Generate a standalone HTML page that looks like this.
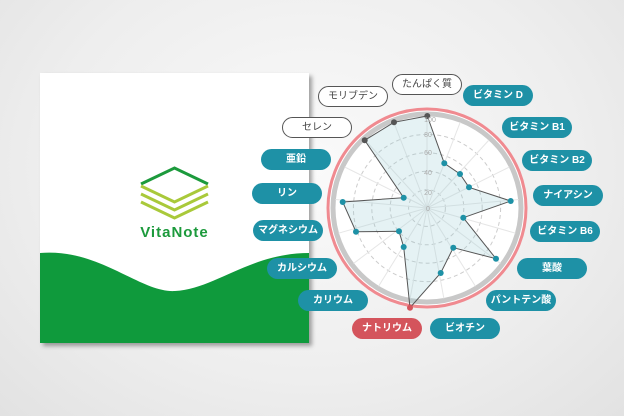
<!DOCTYPE html>
<html><head><meta charset="utf-8"><style>
body{margin:0;width:624px;height:416px;overflow:hidden;background:radial-gradient(ellipse at 50% 40%,#fafafa 0%,#eeeeee 60%,#e2e2e2 100%);font-family:"Liberation Sans","Noto Sans CJK JP",sans-serif;position:relative}
.card{position:absolute;left:40px;top:73px;width:269px;height:270px;background:#fff;box-shadow:3px 3px 4px rgba(0,0,0,.35);overflow:hidden}
.p{position:absolute;width:70px;height:21px;border-radius:11px;font-size:10px;line-height:21px;text-align:center;color:#fff;background:#1e91a6;font-weight:bold}
.w{background:#fff;color:#444;border:1px solid #555;height:19px;line-height:19px;width:68px;font-weight:normal}
.r{background:#d4545c}
</style></head><body>
<div class="card">
<svg width="269" height="270" style="position:absolute;left:0;top:0">
<path d="M0 180 C60 175 100 220 135 218 C175 216 210 180 269 180 L269 270 L0 270Z" fill="#0f9a3c"/>
<polyline points="101,111 134.5,95 168,111" fill="none" stroke="#1c9a3c" stroke-width="3"/>
<polyline points="101,113 134.5,129 168,113" fill="none" stroke="#a9c93a" stroke-width="3"/>
<polyline points="101,121 134.5,137 168,121" fill="none" stroke="#a9c93a" stroke-width="3"/>
<polyline points="101,129 134.5,145 168,129" fill="none" stroke="#a9c93a" stroke-width="3"/>
<text x="134.5" y="164" text-anchor="middle" font-family="Liberation Sans,sans-serif" font-size="15" font-weight="bold" fill="#1c9a3c" letter-spacing="1">VitaNote</text>
</svg></div>
<svg width="624" height="416" style="position:absolute;left:0;top:0">
<circle cx="427" cy="208" r="99" fill="#fff" stroke="#f08a90" stroke-width="3"/>
<circle cx="427" cy="208" r="94" fill="none" stroke="#c8c8c8" stroke-width="5"/>
<g fill="none" stroke="#ccc" stroke-dasharray="4 3">
<circle cx="427" cy="208" r="18.4"/><circle cx="427" cy="208" r="36.8"/><circle cx="427" cy="208" r="55.2"/><circle cx="427" cy="208" r="73.6"/></g>
<g stroke="#e6e6e6" id="sp"></g>
<polygon points="427.3,116 444.3,163.3 460,174 469,187.3 510.7,201 463.3,217.7 496,258.7 453.3,247.7 440.7,273 410,307.7 403.7,247 399,231.3 356,231.7 342.7,202 403.7,197.7 364.7,140.3 394,122.3" fill="rgba(150,205,210,.25)" stroke="#555" stroke-width="1"/>
<g fill="#1e91a6">
<circle cx="444.3" cy="163.3" r="3"/><circle cx="460" cy="174" r="3"/><circle cx="469" cy="187.3" r="3"/><circle cx="510.7" cy="201" r="3"/><circle cx="463.3" cy="217.7" r="3"/><circle cx="496" cy="258.7" r="3"/><circle cx="453.3" cy="247.7" r="3"/><circle cx="440.7" cy="273" r="3"/><circle cx="403.7" cy="247" r="3"/><circle cx="399" cy="231.3" r="3"/><circle cx="356" cy="231.7" r="3"/><circle cx="342.7" cy="202" r="3"/><circle cx="403.7" cy="197.7" r="3"/></g>
<g fill="#555"><circle cx="427.3" cy="116" r="3"/><circle cx="364.7" cy="140.3" r="3"/><circle cx="394" cy="122.3" r="3"/></g>
<circle cx="410" cy="307.7" r="3" fill="#d4545c"/>
<g font-size="7" fill="#aaa" text-anchor="middle" font-family="Liberation Sans,sans-serif">
<text x="428" y="211">0</text><text x="428" y="195">20</text><text x="428" y="175">40</text><text x="428" y="155">60</text><text x="428" y="137">80</text><text x="430" y="122">100</text></g>
</svg>
<script>
var g=document.getElementById('sp'),s='';for(var i=0;i<17;i++){var a=i*2*Math.PI/17;s+='<line x1="427" y1="208" x2="'+(427+92*Math.sin(a))+'" y2="'+(208-92*Math.cos(a))+'"/>';}g.innerHTML=s;
</script>
<div class="p w" style="left:392px;top:74px">たんぱく質</div>
<div class="p w" style="left:318px;top:86px">モリブデン</div>
<div class="p w" style="left:282px;top:117px">セレン</div>
<div class="p" style="left:463px;top:85px">ビタミン D</div>
<div class="p" style="left:502px;top:117px">ビタミン B1</div>
<div class="p" style="left:522px;top:150px">ビタミン B2</div>
<div class="p" style="left:533px;top:185px">ナイアシン</div>
<div class="p" style="left:530px;top:221px">ビタミン B6</div>
<div class="p" style="left:517px;top:258px">葉酸</div>
<div class="p" style="left:486px;top:290px">パントテン酸</div>
<div class="p" style="left:430px;top:318px">ビオチン</div>
<div class="p r" style="left:352px;top:318px">ナトリウム</div>
<div class="p" style="left:298px;top:290px">カリウム</div>
<div class="p" style="left:267px;top:258px">カルシウム</div>
<div class="p" style="left:253px;top:220px">マグネシウム</div>
<div class="p" style="left:252px;top:183px">リン</div>
<div class="p" style="left:261px;top:149px">亜鉛</div>
</body></html>
